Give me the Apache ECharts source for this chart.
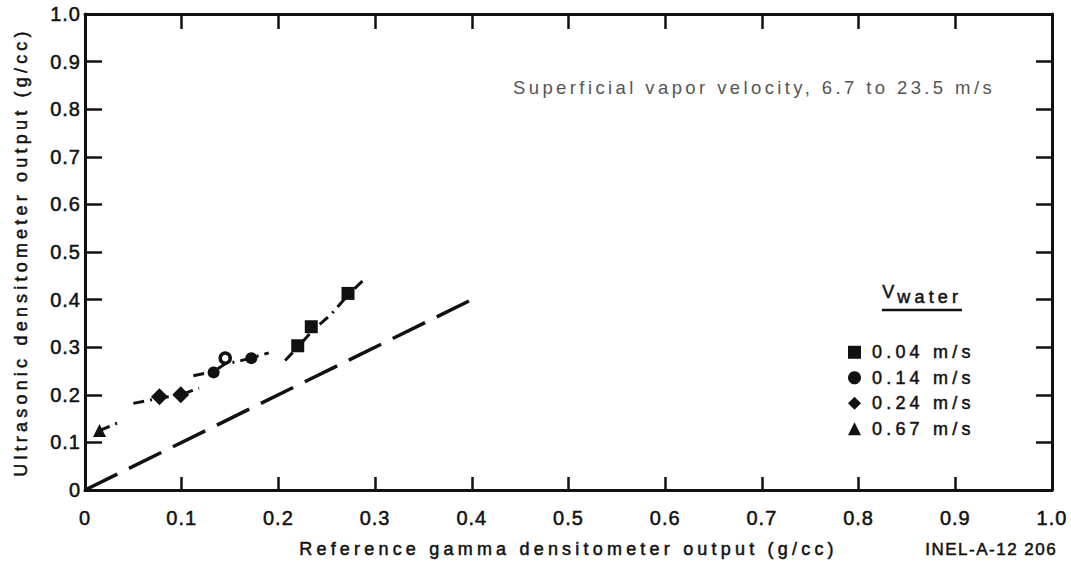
<!DOCTYPE html>
<html>
<head>
<meta charset="utf-8">
<script src="https://cdn.jsdelivr.net/npm/echarts@6/dist/echarts.min.js"></script>
<style>
  html, body { margin: 0; padding: 0; background: #fff; }
  #chart { width: 1071px; height: 569px; }
  /* widely tracked lettering of the printed figure */
  #chart text[style*="20px"] { letter-spacing: 1px; }
  #chart text[style*="18px"] { letter-spacing: 4.2px; }
  #chart text[style*="18.5px"] { letter-spacing: 3.4px; }
  #chart text[style*="17px"] { letter-spacing: 1.5px; }
</style>
</head>
<body>
<div id="chart"></div>
<script>
// Tick labels
const xTickLabels = ['0', '0.1', '0.2', '0.3', '0.4', '0.5', '0.6', '0.7', '0.8', '0.9', '1.0'];
const yTickLabels = ['0', '0.1', '0.2', '0.3', '0.4', '0.5', '0.6', '0.7', '0.8', '0.9', '1.0'];

// Measured points: [reference gamma, ultrasonic] in g/cc
const squares004 = [[0.220, 0.303], [0.234, 0.343], [0.272, 0.413]];
const circles014 = [[0.133, 0.247], [0.172, 0.277]];
const openCircles014 = [[0.145, 0.277]];
const diamonds024 = [[0.077, 0.196], [0.099, 0.200]];
const triangles067 = [[0.015, 0.125]];

// Hand-faired trend lines through each water-velocity group
const fit004 = [[0.207, 0.272], [0.220, 0.300], [0.234, 0.332], [0.255, 0.370], [0.272, 0.410], [0.290, 0.445]];
const fit014 = [[0.112, 0.240], [0.133, 0.249], [0.145, 0.265], [0.160, 0.271], [0.190, 0.288]];
const fit024 = [[0.050, 0.182], [0.077, 0.193], [0.099, 0.200], [0.118, 0.214]];
const fit067 = [[0.015, 0.125], [0.034, 0.141]];

// Line of equality
const identityLine = [[0, 0], [0.4, 0.4]];

const legendNames = ['0.04 m/s', '0.14 m/s', '0.24 m/s', '0.67 m/s'];

const INK = '#111';
const FONT = '"Liberation Sans", Arial, sans-serif';
// slight outline gives the heavy printed look of the lettering
const heavy = { textBorderColor: INK, textBorderWidth: 0.5 };
const heavyGraphic = { stroke: INK, lineWidth: 0.5 };

function tickFmt(labels) {
  return v => labels[Math.round(v * 10)];
}

function valueAxis(extra) {
  return Object.assign({
    type: 'value', min: 0, max: 1, interval: 0.1,
    axisLine: { show: true, onZero: false, lineStyle: { color: INK, width: 3 } },
    splitLine: { show: false },
    nameMoveOverlap: false
  }, extra);
}

const fitStyle = { color: INK, width: 3, type: [11, 6, 2, 6] };

function fitSeries(data) {
  return {
    type: 'line', data: data, symbol: 'none', silent: true, z: 3,
    lineStyle: fitStyle
  };
}

function markerSeries(name, symbol, size, data) {
  return {
    name: name, type: 'scatter', symbol: symbol, symbolSize: size, z: 5,
    itemStyle: { color: INK, opacity: 1 }, data: data
  };
}

const chart = echarts.init(document.getElementById('chart'), null, { renderer: 'svg' });

chart.setOption({
  animation: false,
  backgroundColor: '#fff',
  grid: { left: 85, right: 19, top: 14, bottom: 79, containLabel: false, outerBoundsMode: 'none' },
  xAxis: [
    valueAxis({
      position: 'bottom',
      axisTick: { show: true, inside: true, length: 13, lineStyle: { color: INK, width: 2.5 } },
      axisLabel: Object.assign({ margin: 18, fontSize: 20, color: INK, fontFamily: FONT, formatter: tickFmt(xTickLabels) }, heavy),
      name: 'Reference gamma densitometer output (g/cc)',
      nameLocation: 'middle', nameGap: 50,
      nameTextStyle: Object.assign({ fontSize: 18, color: INK, fontFamily: FONT }, heavy)
    }),
    valueAxis({
      position: 'top',
      axisTick: { show: true, inside: true, length: 15, lineStyle: { color: INK, width: 2.5 } },
      axisLabel: { show: false }
    })
  ],
  yAxis: [
    valueAxis({
      position: 'left',
      axisTick: { show: true, inside: true, length: 17, lineStyle: { color: INK, width: 2.5 } },
      axisLabel: Object.assign({ margin: 4, fontSize: 20, color: INK, fontFamily: FONT, formatter: tickFmt(yTickLabels) }, heavy),
      name: 'Ultrasonic densitometer output (g/cc)',
      nameLocation: 'middle', nameGap: 55,
      nameTextStyle: Object.assign({ fontSize: 18, color: INK, fontFamily: FONT }, heavy)
    }),
    valueAxis({
      position: 'right',
      axisTick: { show: true, inside: true, length: 16, lineStyle: { color: INK, width: 2.5 } },
      axisLabel: { show: false }
    })
  ],
  legend: {
    orient: 'vertical', left: 843, top: 338,
    itemWidth: 13, itemHeight: 13, itemGap: 7,
    selectedMode: false,
    itemStyle: { opacity: 1 },
    data: [
      { name: legendNames[0], icon: 'rect' },
      { name: legendNames[1], icon: 'circle' },
      { name: legendNames[2], icon: 'diamond' },
      { name: legendNames[3], icon: 'triangle' }
    ],
    textStyle: Object.assign({ fontSize: 18, color: INK, fontFamily: FONT, padding: [0, 0, 0, 6] }, heavy)
  },
  graphic: [
    {
      type: 'text', left: 513, top: 78,
      style: { text: 'Superficial vapor velocity, 6.7 to 23.5 m/s', fontSize: 18.5, fontFamily: FONT, fill: '#555' }
    },
    {
      type: 'text', left: 882, top: 283,
      style: Object.assign({ text: 'V', fontSize: 18, fontFamily: FONT, fill: INK }, heavyGraphic)
    },
    {
      type: 'text', left: 897, top: 288,
      style: Object.assign({ text: 'water', fontSize: 18, fontFamily: FONT, fill: INK }, heavyGraphic)
    },
    {
      type: 'line', shape: { x1: 882, y1: 310, x2: 962, y2: 310 },
      style: { stroke: INK, lineWidth: 2.5 }
    },
    {
      type: 'text', left: 925, top: 541,
      style: Object.assign({ text: 'INEL-A-12 206', fontSize: 17, fontFamily: FONT, fill: INK }, heavyGraphic)
    }
  ],
  series: [
    {
      type: 'line', data: identityLine, symbol: 'none', silent: true, z: 2,
      lineStyle: { color: INK, width: 3.5, type: [36, 13] }
    },
    fitSeries(fit004),
    fitSeries(fit014),
    fitSeries(fit024),
    fitSeries(fit067),
    markerSeries(legendNames[0], 'rect', 13, squares004),
    markerSeries(legendNames[1], 'circle', 12,
      circles014.map(p => ({ value: p })).concat(
        openCircles014.map(p => ({
          value: p, symbolSize: 10,
          itemStyle: { color: '#fff', borderColor: INK, borderWidth: 3.5, opacity: 1 }
        }))
      )),
    markerSeries(legendNames[2], 'diamond', 17, diamonds024),
    markerSeries(legendNames[3], 'triangle', 13, triangles067)
  ]
});
</script>
</body>
</html>
